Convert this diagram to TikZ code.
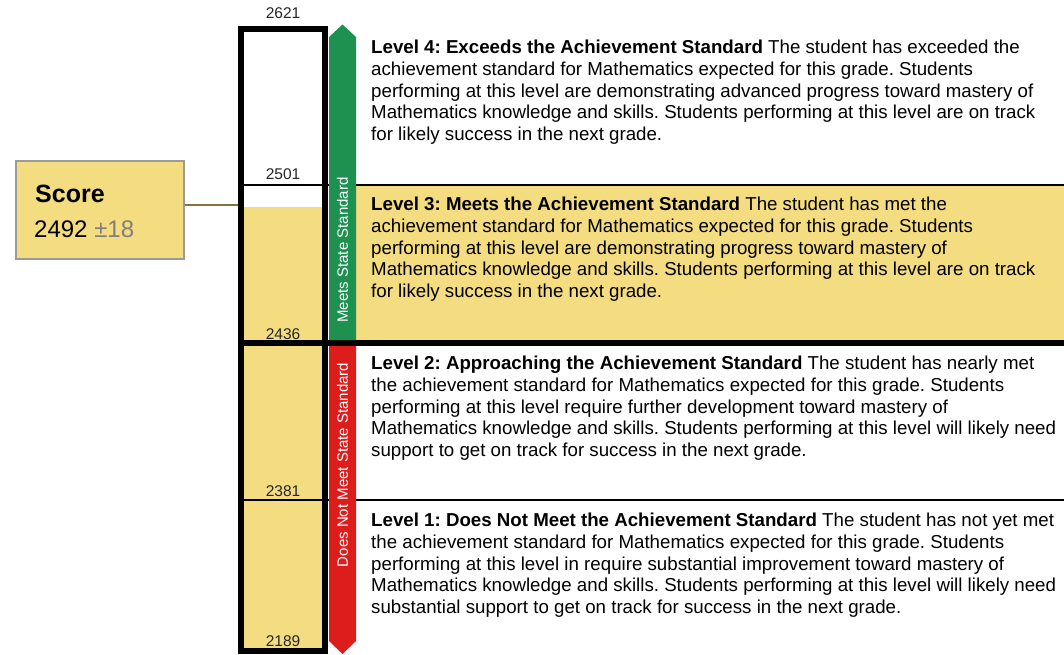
\documentclass[tikz,border=0pt]{standalone}
\usepackage{fontspec}
\setmainfont{Liberation Sans}
\frenchspacing
\definecolor{lvlyellow}{HTML}{F4DC80}
\definecolor{stdgreen}{HTML}{1E9150}
\definecolor{stdred}{HTML}{DD1C1C}
\definecolor{linkolive}{HTML}{85733A}
\definecolor{boxgray}{HTML}{9A9A9A}
\definecolor{pmgray}{HTML}{7F7F7F}
\begin{document}
\begin{tikzpicture}[x=1pt,y=-1pt,
  desc/.style={anchor=north west,align=left,inner sep=0pt,text=black,
    font=\fontsize{18.7}{21.7}\selectfont},
  scalenum/.style={anchor=base,inner sep=0pt,text={black!85},font=\fontsize{15.5}{18}\selectfont},
  bandlbl/.style={rotate=90,inner sep=0pt,text=white,font=\fontsize{15}{18}\selectfont},
  thinrule/.style={line width=2pt,black},
  thickrule/.style={line width=6pt,black}]
\useasboundingbox (0,0) rectangle (1064,654);
% level 3 background
\fill[lvlyellow] (356,186) rectangle (1064,340);
% column fill
\fill[lvlyellow] (241,207) rectangle (325,651);
% rules
\draw[thinrule] (238,185) -- (1064,185);
\draw[thinrule] (238,500) -- (1064,500);
\draw[thickrule] (238,343) -- (1064,343);
% column
\node[draw,line width=6pt,minimum width=84pt,minimum height=622pt,inner sep=0pt] (col) at (283,340) {};
% arrows
\fill[stdgreen] (329,340) -- (329,37) -- (342.5,24.5) -- (356,37) -- (356,340) -- cycle;
\fill[stdred] (329,346) -- (356,346) -- (356,641) -- (342.5,654) -- (329,641) -- cycle;
\node[bandlbl] (meets) at (342.5,250) {Meets State Standard};
\node[bandlbl] (notmeet) at (342.5,465) {Does Not Meet State Standard};
% scale numbers
\node[scalenum] (n2621) at (283,18) {2621};
\node[scalenum] (n2501) at (283,179) {2501};
\node[scalenum] (n2436) at (283,339) {2436};
\node[scalenum] (n2381) at (283,496) {2381};
\node[scalenum] (n2189) at (283,646) {2189};
% score box
\node[draw=boxgray,line width=1.5pt,fill=lvlyellow,minimum width=168pt,minimum height=98pt,inner sep=0pt] (score) at (100,210) {};
\node[anchor=base west,inner sep=0pt,font=\fontsize{25}{30}\selectfont\bfseries] (scoret) at (35,202) {Score};
\node[anchor=base west,inner sep=0pt,font=\fontsize{24}{28}\selectfont] (scorev) at (34,237) {2492 \textcolor{pmgray}{±18}};
\draw[linkolive,line width=2pt] ([yshift=5pt]score.east) -- ([yshift=5pt]score.east -| col.west);
% descriptions
\node[desc] (l4) at (371,40) {\textbf{Level 4: Exceeds the Achievement Standard} The student has exceeded the\\
achievement standard for Mathematics expected for this grade. Students\\
performing at this level are demonstrating advanced progress toward mastery of\\
Mathematics knowledge and skills. Students performing at this level are on track\\
for likely success in the next grade.};
\node[desc] (l3) at (371,197) {\textbf{Level 3: Meets the Achievement Standard} The student has met the\\
achievement standard for Mathematics expected for this grade. Students\\
performing at this level are demonstrating progress toward mastery of\\
Mathematics knowledge and skills. Students performing at this level are on track\\
for likely success in the next grade.};
\node[desc] (l2) at (371,356) {\textbf{Level 2: Approaching the Achievement Standard} The student has nearly met\\
the achievement standard for Mathematics expected for this grade. Students\\
performing at this level require further development toward mastery of\\
Mathematics knowledge and skills. Students performing at this level will likely need\\
support to get on track for success in the next grade.};
\node[desc] (l1) at (371,513) {\textbf{Level 1: Does Not Meet the Achievement Standard} The student has not yet met\\
the achievement standard for Mathematics expected for this grade. Students\\
performing at this level in require substantial improvement toward mastery of\\
Mathematics knowledge and skills. Students performing at this level will likely need\\
substantial support to get on track for success in the next grade.};
\end{tikzpicture}
\end{document}
